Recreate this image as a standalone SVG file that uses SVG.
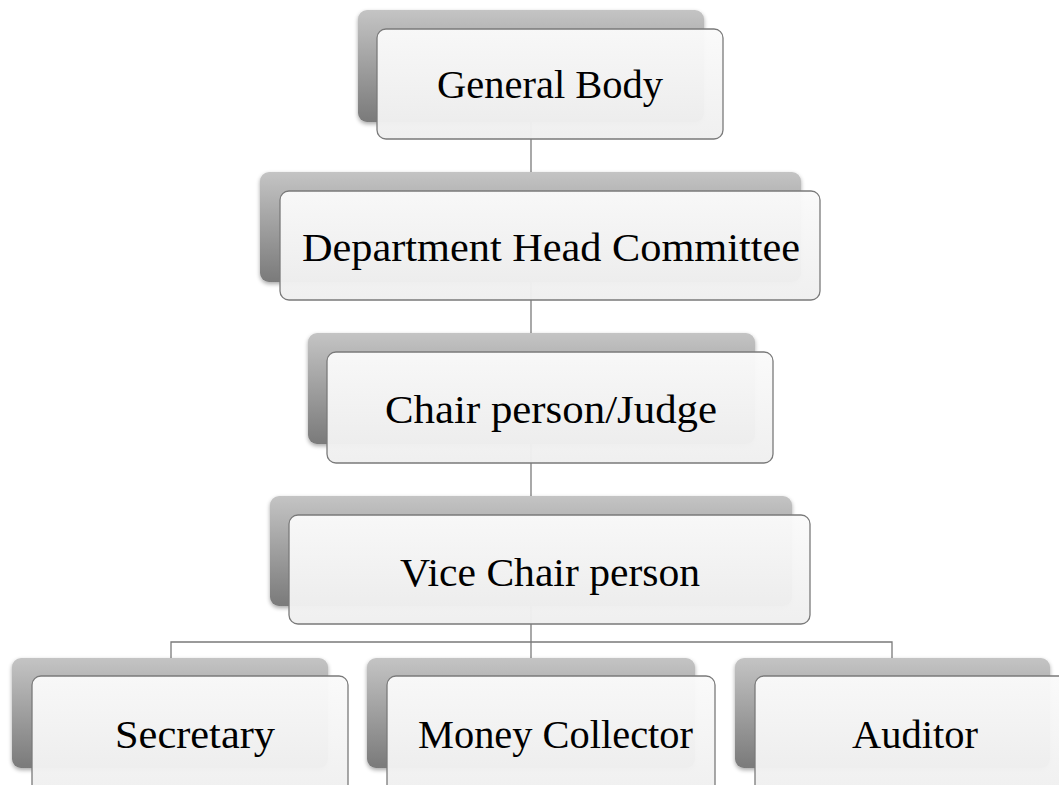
<svg xmlns="http://www.w3.org/2000/svg" width="1059" height="785" viewBox="0 0 1059 785">
<defs>
<linearGradient id="backG" x1="0" y1="0" x2="0" y2="1">
<stop offset="0" stop-color="#c4c4c4"/>
<stop offset="1" stop-color="#7a7a7a"/>
</linearGradient>
<linearGradient id="frontG" x1="0" y1="0" x2="0" y2="1">
<stop offset="0" stop-color="#fafafa"/>
<stop offset="1" stop-color="#efefef"/>
</linearGradient>
<filter id="sh" x="-10%" y="-10%" width="120%" height="130%">
<feGaussianBlur in="SourceAlpha" stdDeviation="2"/>
<feOffset dx="0" dy="2" result="b"/>
<feComponentTransfer><feFuncA type="linear" slope="0.35"/></feComponentTransfer>
<feMerge><feMergeNode/><feMergeNode in="SourceGraphic"/></feMerge>
</filter>
</defs>
<style>
.back{fill:url(#backG);filter:url(#sh)}
.front{fill:url(#frontG);fill-opacity:0.97;stroke:#7a7a7a;stroke-width:1.3}
.lbl{font-family:"Liberation Serif","DejaVu Serif",serif;font-size:39px;fill:#000}
.conn{stroke:#7a7a7a;stroke-width:1.3;fill:none}
</style>
<rect width="1059" height="785" fill="#fff"/>
<g id="connectors">
<line class="conn" x1="531" y1="122" x2="531" y2="191"/>
<line class="conn" x1="531" y1="282" x2="531" y2="352"/>
<line class="conn" x1="531" y1="444" x2="531" y2="515"/>
<polyline class="conn" points="531,606 531,642"/>
<polyline class="conn" points="171,658 171,642 892,642 892,658"/>
<line class="conn" x1="531" y1="642" x2="531" y2="658"/>
</g>
<g id="general-body">
<rect class="back" x="358" y="10" width="346" height="112" rx="9"/>
<rect class="front" x="377" y="29" width="346" height="110" rx="9"/>
<text class="lbl" x="437" y="98" textLength="226" lengthAdjust="spacingAndGlyphs">General Body</text>
</g>
<g id="department-head-committee">
<rect class="back" x="260" y="172" width="541" height="110" rx="9"/>
<rect class="front" x="280" y="191" width="540" height="109" rx="9"/>
<text class="lbl" x="302" y="261" textLength="498" lengthAdjust="spacingAndGlyphs">Department Head Committee</text>
</g>
<g id="chair-person">
<rect class="back" x="308" y="333" width="447" height="111" rx="9"/>
<rect class="front" x="327" y="352" width="446" height="111" rx="9"/>
<text class="lbl" x="385" y="423" textLength="332" lengthAdjust="spacingAndGlyphs">Chair person/Judge</text>
</g>
<g id="vice-chair-person">
<rect class="back" x="270" y="496" width="522" height="110" rx="9"/>
<rect class="front" x="289" y="515" width="521" height="109" rx="9"/>
<text class="lbl" x="400" y="586" textLength="300" lengthAdjust="spacingAndGlyphs">Vice Chair person</text>
</g>
<g id="secretary">
<rect class="back" x="12" y="658" width="316" height="110" rx="9"/>
<rect class="front" x="32" y="676" width="316" height="120" rx="9"/>
<text class="lbl" x="115" y="748" textLength="160" lengthAdjust="spacingAndGlyphs">Secretary</text>
</g>
<g id="money-collector">
<rect class="back" x="367" y="658" width="328" height="110" rx="9"/>
<rect class="front" x="387" y="676" width="328" height="120" rx="9"/>
<text class="lbl" x="418" y="748" textLength="275" lengthAdjust="spacingAndGlyphs">Money Collector</text>
</g>
<g id="auditor">
<rect class="back" x="735" y="658" width="315" height="110" rx="9"/>
<rect class="front" x="755" y="676" width="320" height="120" rx="9"/>
<text class="lbl" x="852" y="748" textLength="126" lengthAdjust="spacingAndGlyphs">Auditor</text>
</g>
</svg>
